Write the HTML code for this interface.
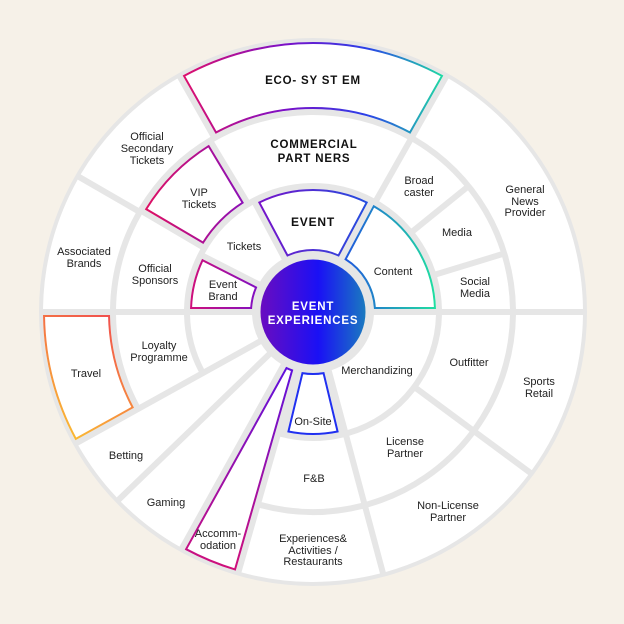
<!DOCTYPE html>
<html><head><meta charset="utf-8"><style>
html,body{margin:0;padding:0;background:#f6f1e8;}
svg{display:block;}
text{font-family:"Liberation Sans",sans-serif;fill:#222;font-size:11px;text-anchor:middle;}
.b{font-weight:bold;font-size:11.5px;letter-spacing:0.8px;fill:#111;}
</style></head><body>
<svg id="s" width="624" height="624" viewBox="0 0 624 624">
<defs>
<linearGradient id="gEco" gradientUnits="userSpaceOnUse" x1="180" y1="0" x2="446" y2="0"><stop offset="0" stop-color="#e0106a"/><stop offset="0.4" stop-color="#7a10c8"/><stop offset="0.7" stop-color="#2a40e8"/><stop offset="1" stop-color="#20e0a0"/></linearGradient>
<linearGradient id="gEvent" gradientUnits="userSpaceOnUse" x1="254" y1="0" x2="372" y2="0"><stop offset="0" stop-color="#7a10c8"/><stop offset="1" stop-color="#2050e0"/></linearGradient>
<linearGradient id="gContent" gradientUnits="userSpaceOnUse" x1="340" y1="0" x2="436" y2="0"><stop offset="0" stop-color="#2050e0"/><stop offset="1" stop-color="#20e0a0"/></linearGradient>
<linearGradient id="gVip" gradientUnits="userSpaceOnUse" x1="143" y1="0" x2="245" y2="0"><stop offset="0" stop-color="#e01060"/><stop offset="1" stop-color="#8a10b8"/></linearGradient>
<linearGradient id="gBrand" gradientUnits="userSpaceOnUse" x1="190" y1="0" x2="263" y2="0"><stop offset="0" stop-color="#d0107a"/><stop offset="1" stop-color="#7a10c8"/></linearGradient>
<linearGradient id="gTravel" gradientUnits="userSpaceOnUse" x1="50" y1="440" x2="130" y2="320"><stop offset="0" stop-color="#fbc530"/><stop offset="1" stop-color="#f04a50"/></linearGradient>
<linearGradient id="gAcc" gradientUnits="userSpaceOnUse" x1="0" y1="570" x2="0" y2="360"><stop offset="0" stop-color="#d0107a"/><stop offset="1" stop-color="#5a10e0"/></linearGradient>
<linearGradient id="gCenter" x1="0" y1="0" x2="1" y2="0"><stop offset="0" stop-color="#6a0cc0"/><stop offset="0.55" stop-color="#1a10f5"/><stop offset="1" stop-color="#1a7ac0"/></linearGradient>
</defs>
<circle cx="313" cy="312" r="274" fill="#e6e6e6"/>
<g id="segs"></g>
<circle cx="313" cy="312" r="58" fill="#e6e6e6"/>
<circle cx="313" cy="312" r="52.5" fill="url(#gCenter)"/>
<g id="lbl">
<text class="b" x="313" y="84">ECO- SY ST EM</text>
<text class="b" x="314" y="148">COMMERCIAL</text>
<text class="b" x="314" y="162">PART NERS</text>
<text class="b" x="313" y="226" style="font-size:12px">EVENT</text>
<text x="393" y="275">Content</text>
<text x="419" y="184">Broad</text><text x="419" y="196">caster</text>
<text x="457" y="236">Media</text>
<text x="475" y="285">Social</text><text x="475" y="297">Media</text>
<text x="525" y="193">General</text><text x="525" y="205">News</text><text x="525" y="216">Provider</text>
<text x="147" y="140">Official</text><text x="147" y="152">Secondary</text><text x="147" y="164">Tickets</text>
<text x="199" y="196">VIP</text><text x="199" y="208">Tickets</text>
<text x="244" y="250">Tickets</text>
<text x="84" y="255">Associated</text><text x="84" y="267">Brands</text>
<text x="155" y="272">Official</text><text x="155" y="284">Sponsors</text>
<text x="223" y="288">Event</text><text x="223" y="300">Brand</text>
<text x="159" y="349">Loyalty</text><text x="159" y="361">Programme</text>
<text x="86" y="377">Travel</text>
<text x="126" y="459">Betting</text>
<text x="166" y="506">Gaming</text>
<text x="218" y="537">Accomm-</text><text x="218" y="549">odation</text>
<text x="313" y="425">On-Site</text>
<text x="314" y="482">F&amp;B</text>
<text x="313" y="542">Experiences&amp;</text><text x="313" y="554">Activities /</text><text x="313" y="565">Restaurants</text>
<text x="377" y="374">Merchandizing</text>
<text x="469" y="366">Outfitter</text>
<text x="539" y="385">Sports</text><text x="539" y="397">Retail</text>
<text x="405" y="445">License</text><text x="405" y="457">Partner</text>
<text x="448" y="509">Non-License</text><text x="448" y="521">Partner</text>
<text class="b" x="313" y="310" style="fill:#fff;font-size:11.5px">EVENT</text>
<text class="b" x="313" y="324" style="fill:#fff;font-size:11.5px">EXPERIENCES</text>
</g>
</svg>
<script>
(function(){
var cx=313,cy=312,NS="http://www.w3.org/2000/svg";
function pt(r,a){var t=a*Math.PI/180;return [cx+r*Math.sin(t),cy-r*Math.cos(t)];}
function sector(r1,r2,a1,a2,d){
 d=d||0;var ri=r1+d,ro=r2-d;
 var bi=d/ri*180/Math.PI,bo=d/ro*180/Math.PI;
 var i1=a1+bi,i2=a2-bi,o1=a1+bo,o2=a2-bo;
 var p1=pt(ro,o1),p2=pt(ro,o2),p3=pt(ri,i2),p4=pt(ri,i1);
 var lo=((o2-o1)%360+360)%360>180?1:0, li=((i2-i1)%360+360)%360>180?1:0;
 return "M"+p1+" A"+ro+","+ro+" 0 "+lo+" 1 "+p2+" L"+p3+" A"+ri+","+ri+" 0 "+li+" 0 "+p4+" Z";
}
var g=document.getElementById("segs");
var A=58,B=126,C=200,D=273;
var segs=[
 [A,B,-28,28,"url(#gEvent)"],[A,B,28,90,"url(#gContent)"],[A,B,90,165],[A,B,166.5,193.5,"#2030f0"],
 [A,D,196,209,"url(#gAcc)"],[A,D,209,226],[A,D,226,241],
 [A,B,241,270],[B,C,241,270],[C,D,241,270,"url(#gTravel)"],
 [A,B,270,297,"url(#gBrand)"],[A,B,297,332],
 [B,C,270,300.5],[B,C,300.5,329,"url(#gVip)"],[B,C,329,389.5],
 [C,D,270,300],[C,D,300,330.5],[C,D,330.5,389.5,"url(#gEco)"],[C,D,29.5,90],
 [B,C,29.5,51],[B,C,51,73],[B,C,73,90],
 [B,C,90,126.5],[B,C,126.5,165],[C,D,90,126.5],[C,D,126.5,165],
 [B,C,165,196],[C,D,165,196]
];
segs.forEach(function(s){
 var p=document.createElementNS(NS,"path");
 p.setAttribute("d",sector(s[0],s[1],s[2],s[3],3));
 p.setAttribute("fill","#fff");
 g.appendChild(p);
 if(s[4]){var q=document.createElementNS(NS,"path");
  q.setAttribute("d",sector(s[0],s[1],s[2],s[3],4));
  q.setAttribute("fill","none");q.setAttribute("stroke",s[4]);q.setAttribute("stroke-width","2");
  q.setAttribute("stroke-linejoin","miter");
  g.appendChild(q);}
});
})();
</script>
</body></html>
